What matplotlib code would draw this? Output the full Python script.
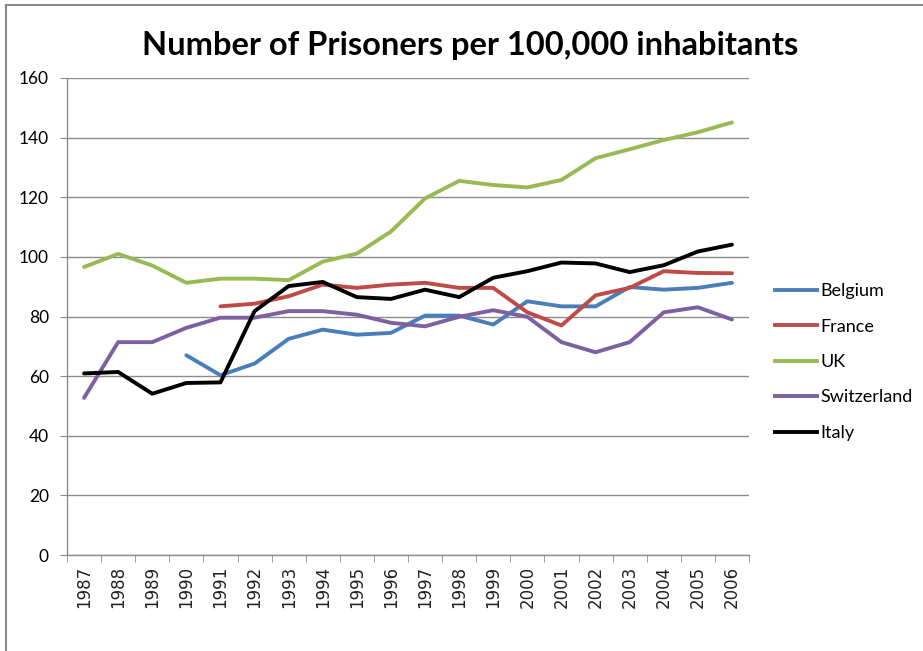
import numpy as np
import matplotlib
matplotlib.use("Agg")
import matplotlib.pyplot as plt
from matplotlib.lines import Line2D

# data
years = list(range(1987, 2007))
belgium = [None, None, None, 67.0, 60.3, 64.2, 72.5, 75.6, 73.9, 74.5,
           80.3, 80.3, 77.3, 85.1, 83.4, 83.4, 89.9, 89.0, 89.6, 91.3]
france = [None, None, None, None, 83.4, 84.3, 86.8, 90.7, 89.6, 90.7,
          91.3, 89.6, 89.6, 81.4, 77.0, 87.1, 89.6, 95.2, 94.6, 94.5]
uk = [96.6, 101.0, 97.1, 91.3, 92.7, 92.7, 92.2, 98.4, 101.1, 108.5,
      119.6, 125.5, 124.1, 123.3, 125.8, 133.1, 136.1, 139.2, 141.8, 145.1]
switzerland = [52.7, 71.4, 71.4, 76.2, 79.6, 79.6, 81.8, 81.8, 80.6, 77.9,
               76.7, 79.9, 82.1, 79.9, 71.4, 68.0, 71.4, 81.4, 83.1, 79.0]
italy = [60.9, 61.4, 54.1, 57.7, 57.9, 81.8, 90.2, 91.6, 86.5, 85.9,
         89.0, 86.5, 93.0, 95.2, 98.1, 97.8, 94.9, 97.2, 101.8, 104.1]

series = [("Belgium", belgium, "#4a7ebb"),
          ("France", france, "#be4b48"),
          ("UK", uk, "#98b954"),
          ("Switzerland", switzerland, "#7d60a0"),
          ("Italy", italy, "#000000")]

fig = plt.figure(figsize=(9.23, 6.51), dpi=100)
ax = fig.add_axes([67 / 923, 1 - 555 / 651, (749 - 67) / 923, (555 - 78) / 651])

x = np.arange(len(years))
for name, vals, col in series:
    y = np.array([np.nan if v is None else v for v in vals], dtype=float)
    ax.plot(x, y, color=col, lw=2.8, label=name, solid_capstyle="round",
            solid_joinstyle="round")

ax.set_xlim(-0.5, len(years) - 0.5)
ax.set_ylim(0, 160)
ax.set_yticks(np.arange(0, 161, 20))
ax.yaxis.grid(True, color="#8c8c8c", lw=1)
ax.set_axisbelow(True)

# category labels at centres, tick marks at boundaries
ax.set_xticks(x)
ax.set_xticklabels([str(yr) for yr in years], rotation=90,
                   fontsize=12, family="DejaVu Sans", color="#222222")
ax.tick_params(axis="x", length=0, pad=8)
ax.set_xticks(np.arange(-0.5, len(years)), minor=True)
ax.tick_params(axis="x", which="minor", length=5, color="#8c8c8c", direction="out")
ax.tick_params(axis="y", length=5, color="#8c8c8c", direction="out",
               labelsize=12.5, pad=8)
for lab in ax.get_yticklabels():
    lab.set_family("Lato")

for s in ["top", "right"]:
    ax.spines[s].set_visible(False)
for s in ["left", "bottom"]:
    ax.spines[s].set_color("#8c8c8c")
    ax.spines[s].set_linewidth(1)

fig.text(470 / 923, 1 - 45 / 651, "Number of Prisoners per 100,000 inhabitants",
         ha="center", va="center", fontsize=23.5, fontweight="bold", family="Lato")

handles = [Line2D([0], [0], color=c, lw=2.8) for _, _, c in series]
leg = fig.legend(handles, [n for n, _, _ in series], loc="center left",
                 bbox_to_anchor=(775 / 923, 1 - 362 / 651), frameon=False,
                 handlelength=2.3, handletextpad=0.2,
                 labelspacing=1.08, borderaxespad=0, borderpad=0,
                 prop={"family": "Lato", "size": 13})

# outer chart border (left and top visible)
fig.add_artist(Line2D([6 / 923, 6 / 923], [0, 1 - 5 / 651], color="#888888",
                      lw=1.5, transform=fig.transFigure))
fig.add_artist(Line2D([6 / 923, 1], [1 - 5 / 651, 1 - 5 / 651], color="#888888",
                      lw=1.5, transform=fig.transFigure))

fig.savefig("out.png", dpi=100)
